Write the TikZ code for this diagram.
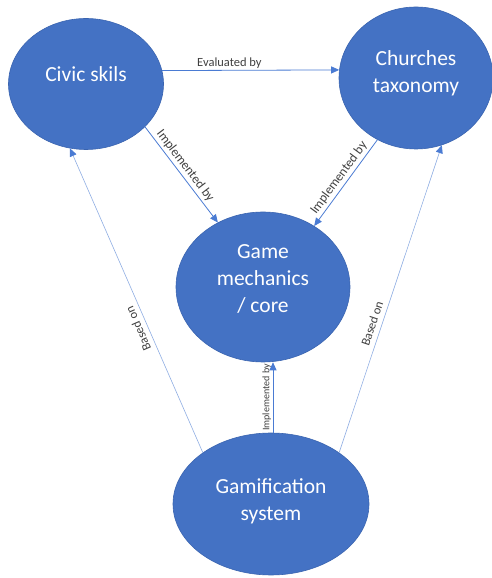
\documentclass[tikz,border=0pt]{standalone}
\usepackage{fontspec}
\setmainfont{Carlito}
\usetikzlibrary{shapes.geometric,arrows.meta}
\definecolor{nodeblue}{HTML}{4472C4}
\definecolor{nodeedge}{HTML}{3A64B0}
\definecolor{linkblue}{HTML}{4A7BD3}
\definecolor{lightlink}{HTML}{8FAEE3}
\definecolor{labelgray}{HTML}{404040}
\begin{document}
\begin{tikzpicture}[x=1pt,y=1pt,
  blob/.style={ellipse, fill=nodeblue, draw=nodeedge, line width=0.6pt, inner sep=0pt},
  blobtext/.style={text=white, font=\fontsize{21.5}{26.7}\selectfont, align=center, inner sep=0pt},
  link/.style={draw=linkblue, line width=0.8pt, -{Triangle[length=8pt,width=7pt]}},
  baselink/.style={draw=lightlink, line width=0.6pt, -{Triangle[length=8pt,width=7pt,color=linkblue]}},
  lab/.style={text=labelgray, font=\fontsize{12.5}{14}\selectfont, inner sep=1.5pt},
]
\useasboundingbox (0,0) rectangle (492,578);
\fill[white] (0,0) rectangle (492,578);
\node[blob, minimum width=155, minimum height=131] (civic) at (86,494) {};
\node[blob, minimum width=154, minimum height=142] (churches) at (416,500) {};
\node[blob, minimum width=174, minimum height=150] (game) at (263,291) {};
\node[blob, minimum width=196, minimum height=142] (gamif) at (271,74) {};
\node[blobtext] (civictext) at ([yshift=10]civic.center) {Civic skils};
\node[blobtext] (churchestext) at ([yshift=5]churches.center) {Churches\\taxonomy};
\node[blobtext] (gametext) at ([yshift=8]game.center) {Game\\mechanics\\/ core};
\node[blobtext] (gamiftext) at ([yshift=3]gamif.center) {Gamification\\system};
\draw[link] (civic.10) -- node[lab, pos=0.38, above] {Evaluated by} (churches.174);
\draw[link] (civic.-36) -- node[lab, pos=0.46, sloped, above, inner sep=2.5pt, font=\fontsize{13}{15}\selectfont] {Implemented by} (game.125);
\draw[link] (churches.238) -- node[lab, pos=0.5, sloped, above, inner sep=2.5pt, font=\fontsize{13}{15}\selectfont] {Implemented by} (game.50);
\draw[link] ([xshift=2]gamif.north) -- node[lab, pos=0.5, sloped, above, inner sep=1.5pt, font=\fontsize{10}{12}\selectfont] {Implemented by} ([xshift=2]gamif.north |- game.south);
\draw[baselink] (gamif.143) -- node[lab, pos=0.42, sloped, allow upside down, above, inner sep=5pt] {Based on} (civic.256);
\draw[baselink] (gamif.37) -- node[lab, pos=0.41, sloped, above, inner sep=5pt] {Based on} (churches.291);
\end{tikzpicture}
\end{document}
